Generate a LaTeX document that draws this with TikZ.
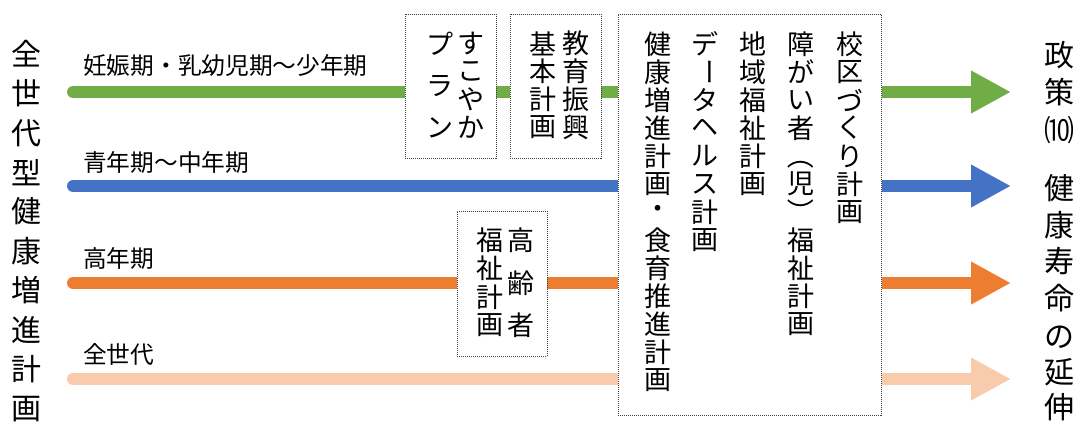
\documentclass[tikz,border=0pt]{standalone}
\usepackage{fontspec}
\setmainfont{Noto Sans CJK JP}
\usetikzlibrary{arrows.meta,backgrounds}
\definecolor{cgreen}{HTML}{70AD47}
\definecolor{cblue}{HTML}{4472C4}
\definecolor{corange}{HTML}{ED7D31}
\definecolor{cpeach}{HTML}{F8CBAD}
\definecolor{cframe}{HTML}{404040}
\newcommand\vrot[1]{\rotatebox[origin=c]{-90}{#1}}
\begin{document}
\begin{tikzpicture}[x=1pt,y=-1pt,
  frame/.style={draw=cframe, line width=0.9pt, dash pattern=on 1pt off 1pt, fill=white, inner sep=0pt, anchor=north west},
  band/.style={line width=12pt, line cap=round},
  arr/.style={line width=12pt, -{Triangle[length=40pt,width=40pt]}},
  lab/.style={font=\fontsize{23.7}{26}\selectfont, anchor=west, inner sep=0pt},
  bigch/.style={font=\fontsize{30}{32}\selectfont, inner sep=0pt},
  ch/.style={font=\fontsize{27}{28}\selectfont, inner sep=0pt}]
\useasboundingbox (0,0) rectangle (1078,422);

% big box
\node[frame, minimum width=263pt, minimum height=401pt] (big) at (618,14) {};

% start and end coordinates of the bands
\coordinate (gs) at (73,92);
\coordinate (bs) at (73,186);
\coordinate (os) at (73,283);
\coordinate (ps) at (73,379);
\coordinate (gt) at (1011,92);
\coordinate (bt) at (1011,186);
\coordinate (ot) at (1011,283);
\coordinate (pt) at (1011,379);

\begin{pgfonlayer}{background}
\draw[band, cgreen]  (gs) -- (big.west |- gs);
\draw[band, cblue]   (bs) -- (big.west |- bs);
\draw[band, corange] (os) -- (big.west |- os);
\draw[band, cpeach]  (ps) -- (big.west |- ps);
\end{pgfonlayer}

\draw[arr, cgreen]  (big.east |- gs) -- (gt);
\draw[arr, cblue]   (big.east |- bs) -- (bt);
\draw[arr, corange] (big.east |- os) -- (ot);
\draw[arr, cpeach]  (big.east |- ps) -- (pt);

% small boxes
\node[frame, minimum width=91pt, minimum height=144pt] (sukoyaka) at (405,14) {};
\node[frame, minimum width=91pt, minimum height=144pt] (kyoiku) at (510,14) {};
\node[frame, minimum width=90pt, minimum height=145pt] (koreisha) at (457,211) {};

% band labels
\node[lab] (l1) at (83,66) {妊娠期・乳幼児期～少年期};
\node[lab] (l2) at (83,162) {青年期～中年期};
\node[lab] (l3) at (83,258) {高年期};
\node[lab] (l4) at (83,354) {全世代};

% left vertical title
\foreach \c [count=\i] in {全,世,代,型,健,康,増,進,計,画}
  \node[bigch] (left-\i) at (26,{54+(\i-1)*39.4}) {\c};

% right vertical title
\foreach \c/\y [count=\i] in {政/55,策/92,⑽/130,健/188,康/225,寿/261,命/298,の/337,延/372,伸/407}
  \node[bigch] (right-\i) at (1059,\y) {\c};

% sukoyaka plan
\foreach \c [count=\i] in {す,こ,や,か}
  \node[ch] (sk-\i) at (471,{43.5+(\i-1)*28}) {\c};
\foreach \c [count=\i] in {プ,ラ,ン}
  \node[ch] (pl-\i) at (440,{43.5+(\i-1)*42}) {\c};

% kyoiku shinko kihon keikaku
\foreach \c [count=\i] in {教,育,振,興}
  \node[ch] (ky-\i) at (576,{43.5+(\i-1)*28}) {\c};
\foreach \c [count=\i] in {基,本,計,画}
  \node[ch] (kh-\i) at (543,{43.5+(\i-1)*28}) {\c};

% koreisha fukushi keikaku
\foreach \c [count=\i] in {高,齢,者}
  \node[ch] (kr-\i) at (521,{240+(\i-1)*42.75}) {\c};
\foreach \c [count=\i] in {福,祉,計,画}
  \node[ch] (fk-\i) at (490,{240+(\i-1)*28.5}) {\c};

% big box columns
\foreach \c [count=\i] in {校,区,づ,く,り,計,画}
  \node[ch] (c1-\i) at (850,{44+(\i-1)*28}) {\c};
\foreach \c [count=\i] in {障,が,い,者,\vrot{（},児,\vrot{）},福,祉,計,画}
  \node[ch] (c2-\i) at (801,{44+(\i-1)*28}) {\c};
\foreach \c [count=\i] in {地,域,福,祉,計,画}
  \node[ch] (c3-\i) at (753,{44+(\i-1)*28}) {\c};
\foreach \c [count=\i] in {デ,\vrot{ー},タ,ヘ,ル,ス,計,画}
  \node[ch] (c4-\i) at (705,{44+(\i-1)*28}) {\c};
\foreach \c [count=\i] in {健,康,増,進,計,画,・,食,育,推,進,計,画}
  \node[ch] (c5-\i) at (658,{44+(\i-1)*28}) {\c};
\end{tikzpicture}
\end{document}
